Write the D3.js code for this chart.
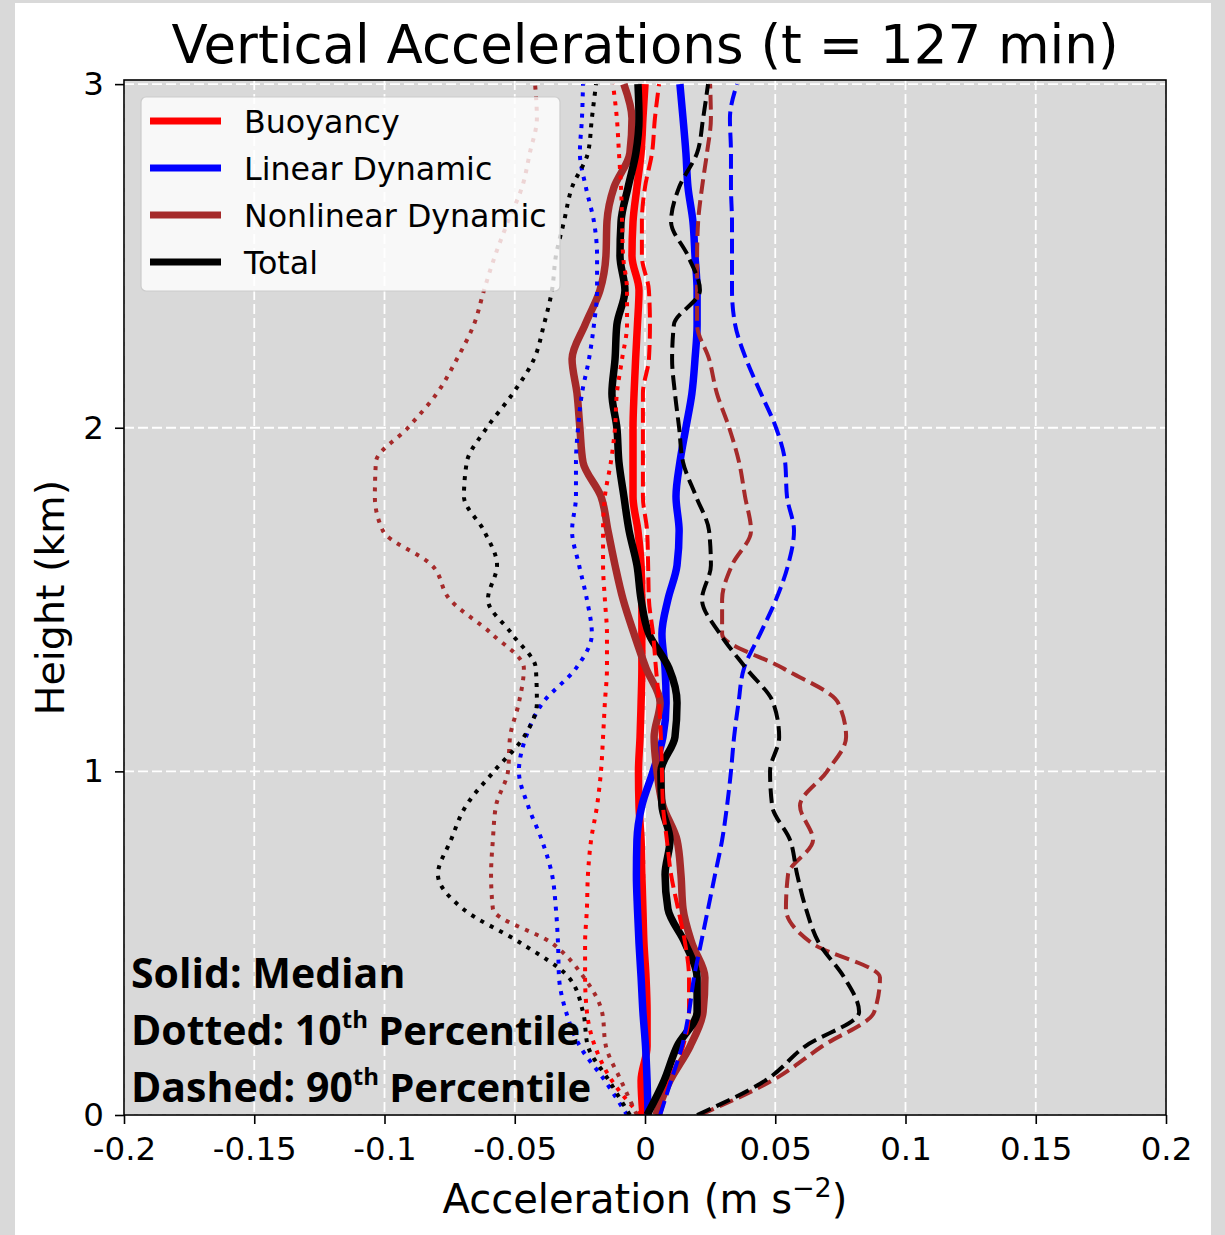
<!DOCTYPE html>
<html>
<head>
<meta charset="utf-8">
<script src="https://cdn.jsdelivr.net/npm/d3@7"></script>
<style>
  html, body { margin: 0; padding: 0; background: #d9d9d9; }
  svg { display: block; }
</style>
</head>
<body>
<svg id="chart" width="1225" height="1235"></svg>
<script>
// Heights (km) at which the profiles are sampled
const heights = [0.0, 0.1, 0.2, 0.3, 0.4, 0.5, 0.6, 0.7, 0.8, 0.9, 1.0,
                 1.1, 1.2, 1.3, 1.4, 1.5, 1.6, 1.7, 1.8, 1.9, 2.0,
                 2.1, 2.2, 2.3, 2.4, 2.5, 2.6, 2.7, 2.8, 2.9, 3.0];

// Vertical acceleration profiles (m s^-2)
const buoyancyMedian = [-0.0008,-0.0015,0.0008,0.0008,0.0004,-0.0004,-0.0008,-0.0012,-0.0015,-0.0023,-0.0025,-0.0019,-0.0015,-0.0012,-0.0012,-0.0012,-0.0015,-0.0027,-0.0046,-0.0046,-0.0046,-0.0042,-0.0036,-0.0029,-0.0023,-0.0050,-0.0046,-0.0031,-0.0015,-0.0008,0.0];
const buoyancyP10 = [-0.0019,-0.0127,-0.0192,-0.0223,-0.0230,-0.0230,-0.0223,-0.0219,-0.0207,-0.0184,-0.0169,-0.0161,-0.0154,-0.0146,-0.0146,-0.0154,-0.0161,-0.0161,-0.0154,-0.0131,-0.0115,-0.0108,-0.0088,-0.0069,-0.0069,-0.0084,-0.0088,-0.0092,-0.0100,-0.0108,-0.0123];
const buoyancyP90 = [0.0058,0.0096,0.0146,0.0169,0.0169,0.0154,0.0127,0.0100,0.0084,0.0069,0.0065,0.0061,0.0054,0.0042,0.0031,0.0015,0.0012,0.0008,-0.0008,-0.0008,-0.0008,-0.0008,0.0015,0.0019,0.0015,-0.0012,-0.0012,0.0,0.0027,0.0038,0.0054];

const linearMedian = [0.0012,0.0008,0.0002,-0.0008,-0.0015,-0.0023,-0.0029,-0.0033,-0.0031,-0.0012,0.0031,0.0069,0.0081,0.0077,0.0065,0.0088,0.0123,0.0131,0.0119,0.0134,0.0157,0.0180,0.0192,0.0200,0.0200,0.0192,0.0184,0.0165,0.0157,0.0146,0.0134];
const linearP10 = [-0.0069,-0.0154,-0.0250,-0.0303,-0.0330,-0.0334,-0.0342,-0.0357,-0.0396,-0.0449,-0.0484,-0.0457,-0.0392,-0.0265,-0.0204,-0.0223,-0.0253,-0.0280,-0.0265,-0.0265,-0.0257,-0.0242,-0.0215,-0.0196,-0.0184,-0.0184,-0.0196,-0.0227,-0.0250,-0.0242,-0.0238];
const linearP90 = [0.0058,0.0100,0.0142,0.0169,0.0188,0.0215,0.0242,0.0269,0.0296,0.0315,0.0330,0.0342,0.0359,0.0380,0.0442,0.0503,0.0549,0.0572,0.0545,0.0538,0.0503,0.0445,0.0388,0.0346,0.0334,0.0334,0.0334,0.0330,0.0330,0.0326,0.0353];

const nonlinearMedian = [0.0042,0.0096,0.0173,0.0223,0.0230,0.0180,0.0146,0.0138,0.0123,0.0069,0.0046,0.0035,0.0058,0.0004,-0.0042,-0.0084,-0.0115,-0.0142,-0.0169,-0.0238,-0.0250,-0.0261,-0.0280,-0.0230,-0.0173,-0.0150,-0.0146,-0.0119,-0.0058,-0.0050,-0.0081];
const nonlinearP10 = [-0.0031,-0.0092,-0.0150,-0.0165,-0.0234,-0.0357,-0.0584,-0.0591,-0.0584,-0.0572,-0.0526,-0.0518,-0.0484,-0.0465,-0.0588,-0.0749,-0.0818,-0.1006,-0.1037,-0.1033,-0.0910,-0.0799,-0.0722,-0.0657,-0.0618,-0.0576,-0.0526,-0.0472,-0.0442,-0.0415,-0.0422];
const nonlinearP90 = [0.0211,0.0488,0.0680,0.0880,0.0902,0.0641,0.0541,0.0549,0.0645,0.0595,0.0699,0.0772,0.0741,0.0530,0.0296,0.0296,0.0334,0.0407,0.0384,0.0361,0.0323,0.0276,0.0246,0.0200,0.0200,0.0200,0.0204,0.0219,0.0238,0.0253,0.0250];

const totalMedian = [0.0008,0.0073,0.0123,0.0200,0.0200,0.0154,0.0088,0.0077,0.0096,0.0065,0.0061,0.0115,0.0123,0.0092,0.0015,-0.0015,-0.0031,-0.0061,-0.0081,-0.0100,-0.0108,-0.0127,-0.0115,-0.0108,-0.0077,-0.0096,-0.0092,-0.0065,-0.0035,-0.0023,-0.0027];
const totalP10 = [-0.0058,-0.0138,-0.0219,-0.0238,-0.0292,-0.0476,-0.0699,-0.0795,-0.0745,-0.0687,-0.0580,-0.0465,-0.0415,-0.0419,-0.0511,-0.0603,-0.0568,-0.0618,-0.0695,-0.0684,-0.0607,-0.0507,-0.0426,-0.0388,-0.0357,-0.0342,-0.0311,-0.0280,-0.0219,-0.0204,-0.0188];
const totalP90 = [0.0200,0.0461,0.0615,0.0822,0.0765,0.0668,0.0618,0.0584,0.0557,0.0488,0.0480,0.0515,0.0492,0.0388,0.0288,0.0219,0.0253,0.0246,0.0196,0.0146,0.0131,0.0115,0.0104,0.0111,0.0211,0.0165,0.0100,0.0131,0.0200,0.0223,0.0242];

// Components, legend labels and colours
const components = ["Buoyancy", "Linear Dynamic", "Nonlinear Dynamic", "Total"];
const colors = ["#ff0000", "#0000ff", "#a52a2a", "#000000"];
const medians = [buoyancyMedian, linearMedian, nonlinearMedian, totalMedian];
const p10s = [buoyancyP10, linearP10, nonlinearP10, totalP10];
const p90s = [buoyancyP90, linearP90, nonlinearP90, totalP90];

// Axis ticks
const xTicks = [-0.2, -0.15, -0.1, -0.05, 0, 0.05, 0.1, 0.15, 0.2];
const xTickLabels = ["-0.2", "-0.15", "-0.1", "-0.05", "0", "0.05", "0.1", "0.15", "0.2"];
const yTicks = [0, 1, 2, 3];
const yTickLabels = ["0", "1", "2", "3"];

const svg = d3.select("#chart");
const W = 1225, H = 1235;
const plot = { left: 124, right: 1166, top: 80, bottom: 1115 };

// figure background
svg.append("rect").attr("x", 15).attr("y", 3).attr("width", 1196).attr("height", H - 3)
  .attr("fill", "#ffffff");

const x = d3.scaleLinear().domain([-0.2, 0.2]).range([plot.left, plot.right]);
const y = d3.scaleLinear().domain([0, 3.012]).range([plot.bottom, plot.top]);

// axes face
svg.append("rect")
  .attr("x", plot.left).attr("y", plot.top)
  .attr("width", plot.right - plot.left).attr("height", plot.bottom - plot.top)
  .attr("fill", "#d9d9d9");

svg.append("defs").append("clipPath").attr("id", "plotClip")
  .append("rect")
  .attr("x", plot.left).attr("y", plot.top)
  .attr("width", plot.right - plot.left).attr("height", plot.bottom - plot.top);

// grid
const grid = svg.append("g").attr("stroke", "#ffffff").attr("stroke-width", 1.8)
  .attr("stroke-dasharray", "10,4");
grid.selectAll("line.gx").data(xTicks).join("line").attr("class", "gx")
  .attr("x1", d => x(d)).attr("x2", d => x(d))
  .attr("y1", plot.top).attr("y2", plot.bottom);
grid.selectAll("line.gy").data(yTicks).join("line").attr("class", "gy")
  .attr("x1", plot.left).attr("x2", plot.right)
  .attr("y1", d => y(d)).attr("y2", d => y(d));

// profiles
const line = d3.line()
  .x(d => x(d[0]))
  .y(d => y(d[1]))
  .curve(d3.curveMonotoneY);
const profile = vals => vals.map((v, i) => [v, heights[i]]);

const lines = svg.append("g").attr("clip-path", "url(#plotClip)").attr("fill", "none");

// medians (solid)
medians.forEach((vals, i) => {
  lines.append("path").datum(profile(vals))
    .attr("d", line).attr("stroke", colors[i]).attr("stroke-width", 7.5)
    .attr("stroke-linejoin", "round");
});
// 10th percentile (dotted)
p10s.forEach((vals, i) => {
  lines.append("path").datum(profile(vals))
    .attr("d", line).attr("stroke", colors[i]).attr("stroke-width", 4)
    .attr("stroke-dasharray", "4,6.6");
});
// 90th percentile (dashed)
p90s.forEach((vals, i) => {
  lines.append("path").datum(profile(vals))
    .attr("d", line).attr("stroke", colors[i]).attr("stroke-width", 4)
    .attr("stroke-dasharray", "14.8,6.4");
});

// axes
const fontMain = "'DejaVu Sans', sans-serif";
const xAxis = d3.axisBottom(x).tickValues(xTicks)
  .tickFormat((d, i) => xTickLabels[i]).tickSize(9).tickPadding(5);
const gx = svg.append("g").attr("transform", `translate(0,${plot.bottom})`).call(xAxis);
gx.select(".domain").remove();
gx.selectAll(".tick line").attr("stroke", "#000").attr("stroke-width", 1.6);
gx.selectAll(".tick text").attr("font-family", fontMain).attr("font-size", 32.5)
  .attr("fill", "#000").attr("dy", "0.95em");

const yAxis = d3.axisLeft(y).tickValues(yTicks)
  .tickFormat((d, i) => yTickLabels[i]).tickSize(9).tickPadding(11);
const gy = svg.append("g").attr("transform", `translate(${plot.left},0)`).call(yAxis);
gy.select(".domain").remove();
gy.selectAll(".tick line").attr("stroke", "#000").attr("stroke-width", 1.6);
gy.selectAll(".tick text").attr("font-family", fontMain).attr("font-size", 32.5)
  .attr("fill", "#000");

// frame
svg.append("rect")
  .attr("x", plot.left).attr("y", plot.top)
  .attr("width", plot.right - plot.left).attr("height", plot.bottom - plot.top)
  .attr("fill", "none").attr("stroke", "#000").attr("stroke-width", 1.6);

// legend
const legend = svg.append("g");
legend.append("rect")
  .attr("x", 141).attr("y", 97).attr("width", 419).attr("height", 194)
  .attr("rx", 5).attr("ry", 5)
  .attr("fill", "#ffffff").attr("fill-opacity", 0.8)
  .attr("stroke", "#cccccc").attr("stroke-width", 1.2);
components.forEach((name, i) => {
  const cy = 121 + i * 47;
  legend.append("line").attr("x1", 150).attr("x2", 221).attr("y1", cy).attr("y2", cy)
    .attr("stroke", colors[i]).attr("stroke-width", 7);
  legend.append("text").attr("x", 244).attr("y", cy + 11.5)
    .attr("font-family", fontMain).attr("font-size", 31.7).attr("fill", "#000")
    .text(name);
});

// title
svg.append("text").attr("x", (plot.left + plot.right) / 2).attr("y", 63)
  .attr("text-anchor", "middle").attr("font-family", fontMain).attr("font-size", 53)
  .attr("fill", "#000").text("Vertical Accelerations (t = 127 min)");

// axis labels
const xl = svg.append("text").attr("x", (plot.left + plot.right) / 2).attr("y", 1213)
  .attr("text-anchor", "middle").attr("font-family", fontMain).attr("font-size", 40)
  .attr("fill", "#000");
xl.append("tspan").text("Acceleration (m s");
xl.append("tspan").attr("font-size", 27).attr("dy", -16).text("\u22122");
xl.append("tspan").attr("dy", 16).text(")");

svg.append("text")
  .attr("transform", `translate(64,${(plot.top + plot.bottom) / 2}) rotate(-90)`)
  .attr("text-anchor", "middle").attr("font-family", fontMain).attr("font-size", 39.5)
  .attr("fill", "#000").text("Height (km)");

// line-style key
const keyFont = "'Open Sans', sans-serif";
const keyLines = [
  { a: "Solid: Median", sup: null, b: null, yb: 988 },
  { a: "Dotted: 10", sup: "th", b: " Percentile", yb: 1045 },
  { a: "Dashed: 90", sup: "th", b: " Percentile", yb: 1102 }
];
keyLines.forEach(k => {
  const t = svg.append("text").attr("x", 131).attr("y", k.yb)
    .attr("font-family", keyFont).attr("font-weight", "bold")
    .attr("font-size", 41).attr("fill", "#000");
  t.append("tspan").text(k.a);
  if (k.sup) {
    t.append("tspan").attr("font-size", 24).attr("dy", -17).text(k.sup);
    t.append("tspan").attr("dy", 17).attr("font-size", 40).attr("letter-spacing", -0.1).text(k.b);
  }
});
</script>
</body>
</html>
